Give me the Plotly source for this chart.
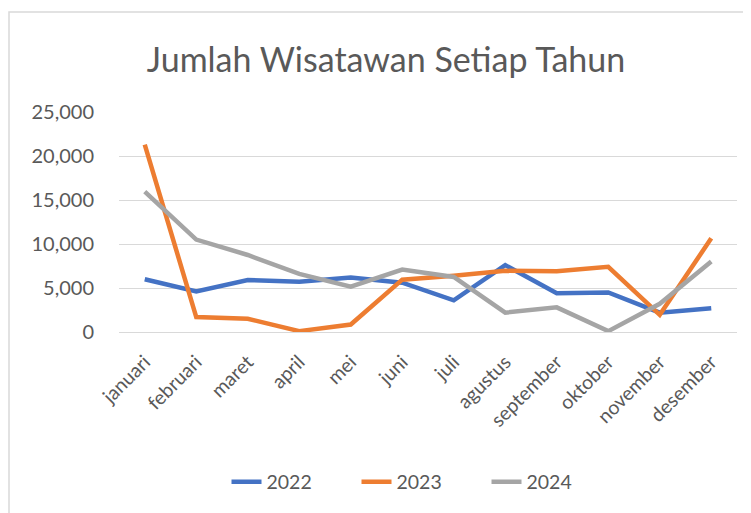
import plotly.graph_objects as go

months = ["januari", "februari", "maret", "april", "mei", "juni", "juli",
          "agustus", "september", "oktober", "november", "desember"]
v2022 = [6000, 4600, 5900, 5700, 6200, 5600, 3600, 7600, 4400, 4500, 2200, 2700]
v2023 = [21300, 1700, 1500, 100, 850, 5950, 6400, 6950, 6900, 7400, 1950, 10650]
v2024 = [15950, 10500, 8750, 6600, 5150, 7100, 6250, 2200, 2800, 100, 3200, 8000]
series_names = ["2022", "2023", "2024"]
colors = ["#4472C4", "#ED7D31", "#A5A5A5"]
tick_vals = [0, 5000, 10000, 15000, 20000, 25000]
tick_text = ["0", "5,000", "10,000", "15,000", "20,000", "25,000"]

FONT = "Lato"
TXT = "#595959"

fig = go.Figure()
for name, vals, c in zip(series_names, [v2022, v2023, v2024], colors):
    fig.add_trace(go.Scatter(x=months, y=vals, name=name, mode="lines",
                             line=dict(color=c, width=4.5), cliponaxis=False))

# page body has an 8px margin, so the figure is drawn at (8, 8)
W, H = 743, 505
L, R, T, B = 111, 14, 104, 181
pw, ph = W - L - R, H - T - B

fig.update_layout(
    width=W, height=H,
    margin=dict(l=L, r=R, t=T, b=B),
    paper_bgcolor="white", plot_bgcolor="white",
    font=dict(family=FONT, color=TXT, size=19),
    title=dict(text="Jumlah Wisatawan Setiap Tahun", x=378 / W, xanchor="center",
               xref="container", y=1 - 52 / H, yanchor="middle",
               font=dict(family=FONT, size=34, color=TXT)),
    showlegend=True,
    legend=dict(orientation="h", x=413.5 / W, xref="container", xanchor="center",
                y=1 - 474 / H, yref="container", yanchor="middle",
                font=dict(size=19.5, color=TXT), entrywidth=85,
                traceorder="normal"),
    xaxis=dict(range=[-0.5, 11.5], showgrid=False, showline=True,
               linecolor="#D9D9D9", linewidth=1,
               tickangle=-45, tickfont=dict(size=19.5, color=TXT), ticks="",
               ticklabelstandoff=10),
    yaxis=dict(range=[0, 25000], tickvals=tick_vals, ticktext=tick_text,
               showgrid=True, gridcolor="#D9D9D9", gridwidth=1, zeroline=False,
               showline=False, ticks="", ticklabelstandoff=24,
               tickfont=dict(size=20, color=TXT)),
    shapes=[dict(type="rect", xref="paper", yref="paper",
                 x0=(1 - L) / pw, x1=(W + 20 - L) / pw,
                 y0=(H - B - (H + 20)) / ph, y1=(H - B - 4) / ph,
                 line=dict(color="#D9D9D9", width=1.5), layer="below")],
)

fig.write_html("out.html")
